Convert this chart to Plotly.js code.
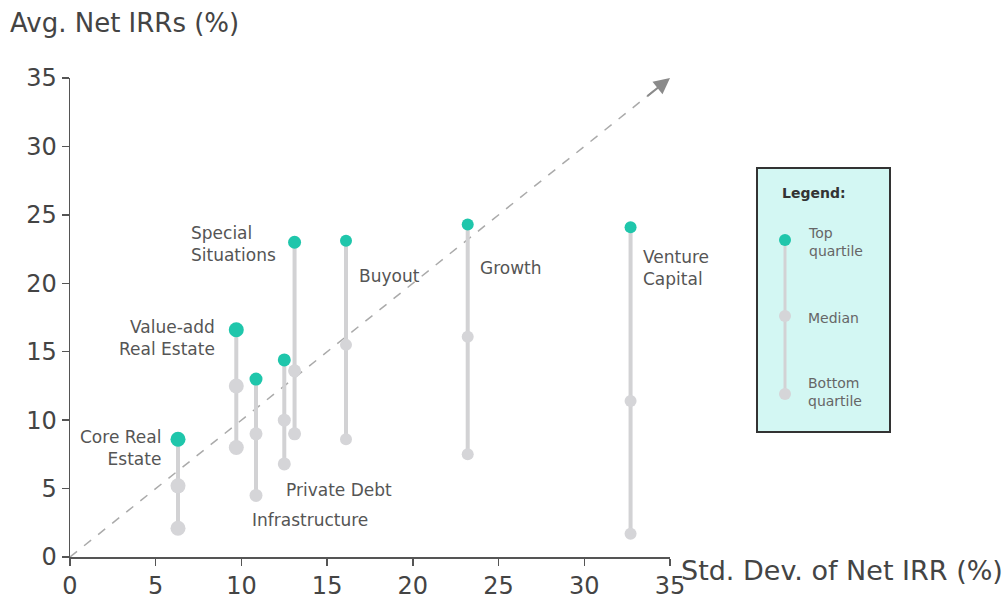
<!DOCTYPE html>
<html>
<head>
<meta charset="utf-8">
<script src="https://cdn.plot.ly/plotly-3.0.1.min.js"></script>
<style>html,body{margin:0;padding:0;background:#fff;}#chart{width:1008px;height:605px;}</style>
</head>
<body>
<div id="chart"></div>
<script>
const categories = ["Core Real Estate","Value-add Real Estate","Infrastructure","Private Debt","Special Situations","Buyout","Growth","Venture Capital"];
const stdDev = [6.3, 9.7, 10.85, 12.5, 13.1, 16.1, 23.2, 32.7];
const topQuartile = [8.6, 16.6, 13.0, 14.4, 23.0, 23.1, 24.3, 24.1];
const median = [5.2, 12.5, 9.0, 10.0, 13.6, 15.5, 16.1, 11.4];
const bottomQuartile = [2.1, 8.0, 4.5, 6.8, 9.0, 8.6, 7.5, 1.7];
const labelText = ["Core Real<br>Estate","Value-add<br>Real Estate","Infrastructure","Private Debt","Special<br>Situations","Buyout","Growth","Venture<br>Capital"];
const labelX = [5.45, 8.6, 10.5, 12.5, 6.95, 16.75, 23.8, 33.3];
const labelY = [8.0, 16.0, 2.7, 4.9, 22.9, 20.5, 21.1, 21.1];
const labelAlign = ["right","right","left","left","left","left","left","left"];
const markerSize = [15, 15, 13, 13, 13, 12, 12, 12];
const xTicks = [0,5,10,15,20,25,30,35];
const yTicks = [0,5,10,15,20,25,30,35];

const TEAL = "#1fc6ab", GREY = "#d5d5d8", LINEGREY = "#d2d2d4";
const FONT = "'DejaVu Sans', 'Liberation Sans', sans-serif";

const traces = [];
categories.forEach((c, i) => {
  traces.push({
    type: "scatter", mode: "lines", x: [stdDev[i], stdDev[i]], y: [bottomQuartile[i], topQuartile[i]],
    line: {color: LINEGREY, width: 4}, hoverinfo: "skip", showlegend: false, cliponaxis: false
  });
  traces.push({
    type: "scatter", mode: "markers", x: [stdDev[i], stdDev[i]], y: [bottomQuartile[i], median[i]],
    marker: {color: GREY, size: markerSize[i]}, showlegend: false, cliponaxis: false, name: c
  });
  traces.push({
    type: "scatter", mode: "markers", x: [stdDev[i]], y: [topQuartile[i]],
    marker: {color: TEAL, size: markerSize[i]}, showlegend: false, cliponaxis: false, name: c
  });
});

// pixel helpers for paper coords
const L = 70, R = 670, T = 78, B = 557;
const px = v => (v - L) / (R - L);
const py = v => (B - v) / (B - T);

const annotations = categories.map((c, i) => ({
  x: labelX[i], y: labelY[i], xref: "x", yref: "y", text: labelText[i], showarrow: false,
  xanchor: labelAlign[i], yanchor: "middle", align: labelAlign[i],
  font: {family: FONT, size: 17, color: "#555"}
}));
annotations.push({
  x: px(8), y: py(23), xref: "paper", yref: "paper", text: "Avg. Net IRRs (%)", showarrow: false,
  xanchor: "left", yanchor: "middle", font: {family: FONT, size: 26, color: "#444"}
});
annotations.push({
  x: px(679), y: py(570), xref: "paper", yref: "paper", text: "Std. Dev. of Net IRR (%)", showarrow: false,
  xanchor: "left", yanchor: "middle", font: {family: FONT, size: 27, color: "#444"}
});
// arrow head
annotations.push({
  x: 35, y: 35, ax: 33.6, ay: 33.6, xref: "x", yref: "y", axref: "x", ayref: "y",
  text: "", showarrow: true, arrowhead: 2, arrowsize: 1.6, arrowwidth: 2, arrowcolor: "#8a8a8a", standoff: 0
});
// legend texts
annotations.push({x: px(780), y: py(193), xref: "paper", yref: "paper", text: "<b>Legend:</b>", showarrow: false,
  xanchor: "left", yanchor: "middle", font: {family: FONT, size: 14, color: "#333"}});
annotations.push({x: px(806), y: py(242), xref: "paper", yref: "paper", text: "Top<br>quartile", showarrow: false,
  xanchor: "left", yanchor: "middle", align: "left", font: {family: FONT, size: 14, color: "#666"}});
annotations.push({x: px(806), y: py(318), xref: "paper", yref: "paper", text: "Median", showarrow: false,
  xanchor: "left", yanchor: "middle", align: "left", font: {family: FONT, size: 14, color: "#666"}});
annotations.push({x: px(806), y: py(392), xref: "paper", yref: "paper", text: "Bottom<br>quartile", showarrow: false,
  xanchor: "left", yanchor: "middle", align: "left", font: {family: FONT, size: 14, color: "#666"}});

const shapes = [
  {type: "line", xref: "x", yref: "y", x0: 0, y0: 0, x1: 34.2, y1: 34.2, layer: "below",
   line: {color: "#aaaaaa", width: 1.5, dash: "dash"}},
  {type: "rect", xref: "paper", yref: "paper", x0: px(757), x1: px(890), y0: py(432), y1: py(168),
   fillcolor: "#d3f7f3", line: {color: "#333", width: 2}},
  {type: "line", xref: "paper", yref: "paper", x0: px(785), x1: px(785), y0: py(394), y1: py(240),
   line: {color: LINEGREY, width: 3}},
];
[[240, TEAL], [316, GREY], [394, GREY]].forEach(([yy, col]) => {
  shapes.push({type: "circle", xref: "paper", yref: "paper", xsizemode: "pixel", ysizemode: "pixel",
    xanchor: px(785), yanchor: py(yy), x0: -6, x1: 6, y0: -6, y1: 6, fillcolor: col, line: {width: 0}});
});

const layout = {
  width: 1008, height: 605,
  margin: {l: L, r: 1008 - R, t: T, b: 605 - B},
  paper_bgcolor: "#fff", plot_bgcolor: "#fff",
  font: {family: FONT, color: "#444"},
  xaxis: {range: [0, 35], tickvals: xTicks, ticks: "outside", ticklen: 7, tickwidth: 1.5, tickcolor: "#555",
    showline: true, linecolor: "#555", linewidth: 1.5, showgrid: false, zeroline: false,
    tickfont: {family: FONT, size: 24, color: "#444"}, fixedrange: true},
  yaxis: {range: [0, 35], tickvals: yTicks, ticks: "outside", ticklen: 7, tickwidth: 1.5, tickcolor: "#555",
    showline: true, linecolor: "#555", linewidth: 1.5, showgrid: false, zeroline: false,
    tickfont: {family: FONT, size: 24, color: "#444"}, fixedrange: true},
  showlegend: false,
  annotations: annotations,
  shapes: shapes
};

Plotly.newPlot("chart", traces, layout, {displayModeBar: false, staticPlot: true});
</script>
</body>
</html>
